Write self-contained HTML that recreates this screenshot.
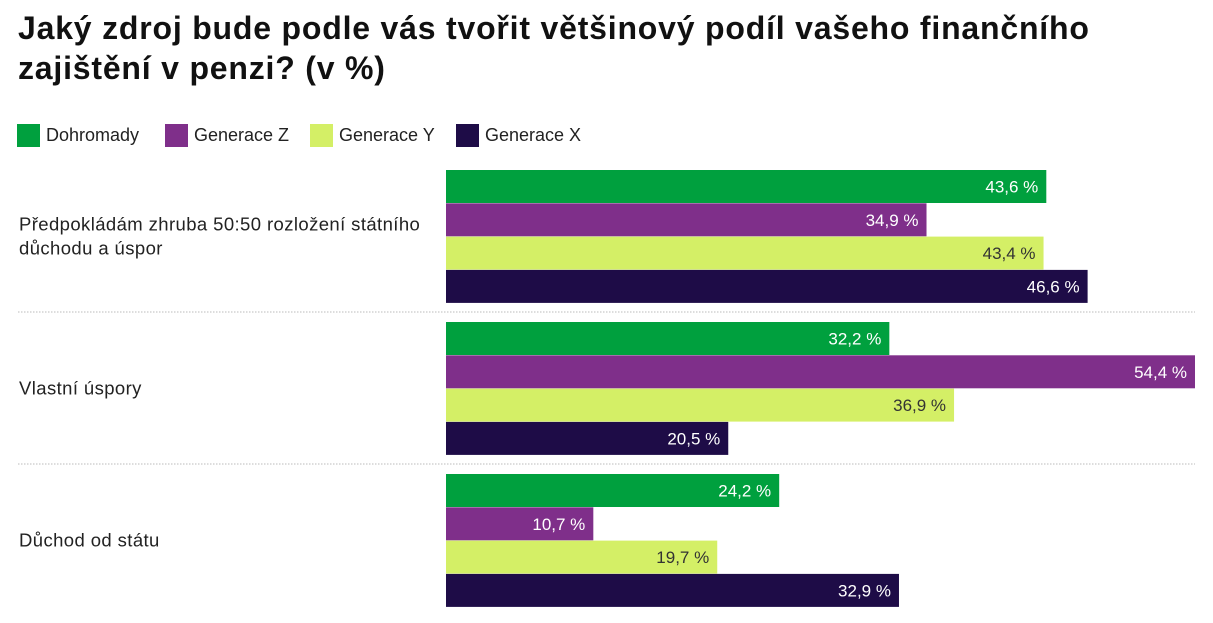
<!DOCTYPE html>
<html><head><meta charset="utf-8"><style>
body{margin:0;background:#fff;font-family:"Liberation Sans",sans-serif;}
#wrap{position:relative;width:1213px;height:623px;overflow:hidden;}
h1{position:absolute;left:18px;top:8px;margin:0;font-size:32px;line-height:40px;font-weight:bold;color:#111;width:1120px;letter-spacing:0.8px}
.leg{position:absolute;top:124px;display:flex;align-items:center;font-size:18px;color:#222}
.leg span.sw{display:inline-block;width:23px;height:23px;margin-right:6px}
</style></head><body>
<div id="wrap">
<h1>Jaký zdroj bude podle vás tvořit většinový podíl vašeho finančního zajištění v penzi? (v %)</h1>
<div class="leg" style="left:17px"><span class="sw" style="background:#00a03e"></span>Dohromady</div>
<div class="leg" style="left:165px"><span class="sw" style="background:#7f2f8a"></span>Generace Z</div>
<div class="leg" style="left:310px"><span class="sw" style="background:#d4ef66"></span>Generace Y</div>
<div class="leg" style="left:456px"><span class="sw" style="background:#1e0c47"></span>Generace X</div>
<svg id="svg" width="1213" height="623" style="position:absolute;left:0;top:0"></svg>
</div>
<script>
const categories=[["Předpokládám zhruba 50:50 rozložení státního","důchodu a úspor"],["Vlastní úspory"],["Důchod od státu"]];
const seriesNames=["Dohromady","Generace Z","Generace Y","Generace X"];
const dohromady=[43.6,32.2,24.2];
const genZ=[34.9,54.4,10.7];
const genY=[43.4,36.9,19.7];
const genX=[46.6,20.5,32.9];
const series=[dohromady,genZ,genY,genX];
const colors=["#00a03e","#7f2f8a","#d4ef66","#1e0c47"];
const textColors=["#fff","#fff","#333","#fff"];
const ns="http://www.w3.org/2000/svg";
const svg=document.getElementById("svg");
const x0=446,x1=1195,vmax=54.4;
const xs=v=>x0+(x1-x0)*v/vmax;
const groupTop=g=>170+g*152,barH=33,barStep=33.3;
function mk(t,a){const e=document.createElementNS(ns,t);for(const k in a)e.setAttribute(k,a[k]);svg.appendChild(e);return e;}
categories.forEach((cat,g)=>{
  const top=groupTop(g);
  const mid=top+barStep*2;
  const lab=mk("text",{x:19,y:mid-(cat.length-1)*12+6,"font-size":18.5,"letter-spacing":"0.4",fill:"#222"});
  
  
  cat.forEach((line,i)=>{const t=document.createElementNS(ns,"tspan");t.setAttribute("x",19);t.setAttribute("dy",i?24:0);t.textContent=line;lab.appendChild(t);});
  series.forEach((s,i)=>{
    const y=top+i*barStep;
    const r=mk("rect",{x:x0,y:y,width:xs(s[g])-x0,height:barH,fill:colors[i]});
    
    
    const t=mk("text",{x:xs(s[g])-8,y:y+barH/2+6,"text-anchor":"end","font-size":17,fill:textColors[i]});
    
    
    t.textContent=s[g].toFixed(1).replace(".",",")+" %";
  });
  if(g<categories.length-1){
    const l=mk("line",{x1:18,x2:1195,y1:top+142,y2:top+142,stroke:"#bbb","stroke-dasharray":"1.5,1.5"});
    
    
  }
});
</script>
</body></html>
